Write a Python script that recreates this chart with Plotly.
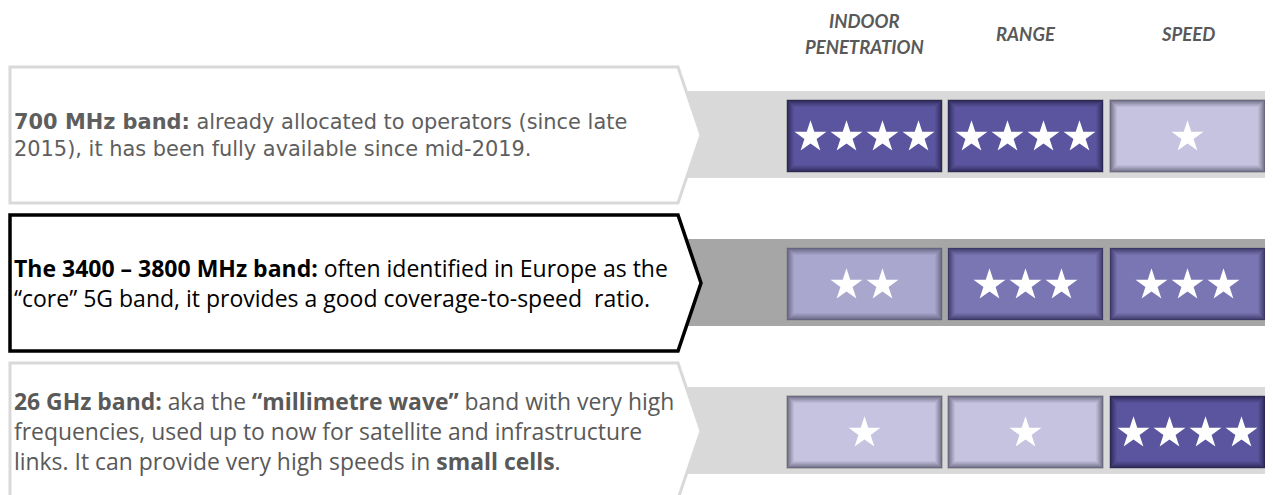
import plotly.graph_objects as go

# ---------------- data ----------------
columns = ["INDOOR<br>PENETRATION", "RANGE", "SPEED"]
bands = ["700 MHz band", "3400 – 3800 MHz band", "26 GHz band"]
ratings = [[4, 4, 1],
           [2, 3, 3],
           [1, 1, 4]]
descriptions = [
    "<b>700 MHz band:</b> already allocated to operators (since late<br>"
    "2015), it has been fully available since mid-2019.",
    "<b>The 3400 – 3800 MHz band:</b> often identified in Europe as the<br>"
    "“core” 5G band, it provides a good coverage-to-speed  ratio.",
    "<b>26 GHz band:</b> aka the <b>“millimetre wave”</b> band with very high<br>"
    "frequencies, used up to now for satellite and infrastructure<br>"
    "links. It can provide very high speeds in <b>small cells</b>.",
]
highlight = [False, True, False]

# ---------------- style / layout constants ----------------
W, H = 1273, 495
OFF = 8  # page body margin
row_c = [135, 283, 431]
col_x0 = [787, 948, 1110]
col_w = 155
star_step = 36

text_fonts = [
    dict(family="DejaVu Sans", size=20.9, color="#5e5e5e"),
    dict(family="Open Sans", size=23, color="#000000"),
    dict(family="Open Sans", size=22.9, color="#595959"),
]
arrow_line = ["#d9d9d9", "#000000", "#d9d9d9"]
arrow_w = [3, 3.5, 3]
band_col = ["#d9d9d9", "#a6a6a6", "#d9d9d9"]
pal_normal = {"dark": ("#5b559f", "#2c2856"), "light": ("#c5c3df", "#6c6a80")}
pal_high = {"dark": ("#7a75b3", "#3c3866"), "light": ("#aaa7cf", "#656380")}


def hx(c):
    c = c.lstrip("#")
    return [int(c[i:i + 2], 16) for i in (0, 2, 4)]


def blend(a, b, t):
    A, B = hx(a), hx(b)
    return "#%02x%02x%02x" % tuple(int(round(A[i] + (B[i] - A[i]) * t)) for i in range(3))


shapes = []
annotations = []

for r in range(3):
    c = row_c[r]
    # grey band behind boxes
    shapes.append(dict(type="rect", xref="x", yref="y", layer="below",
                       x0=688, x1=W + 5, y0=c - 44, y1=c + 43,
                       fillcolor=band_col[r], line=dict(width=0)))
    # arrow (pentagon) text box
    top, bot = c - 68, c + 68
    path = f"M 10,{top} L 678,{top} L 701,{c} L 678,{bot} L 10,{bot} Z"
    shapes.append(dict(type="path", xref="x", yref="y", layer="below", path=path,
                       fillcolor="#ffffff",
                       line=dict(color=arrow_line[r], width=arrow_w[r])))
    # rating boxes with inner shadow
    pal = pal_high if highlight[r] else pal_normal
    for j in range(3):
        kind = "dark" if ratings[r][j] >= 3 else "light"
        base, edge = pal[kind]
        x0, x1 = col_x0[j], col_x0[j] + col_w
        y0, y1 = c - 35, c + 37
        shapes.append(dict(type="rect", xref="x", yref="y", layer="below",
                           x0=x0 - 0.5, x1=x1 + 0.5, y0=y0 - 0.5, y1=y1 + 0.5,
                           fillcolor="#8c8c8c", line=dict(width=0)))
        n = 7
        for k in range(n + 1):
            t = (k / n) ** 0.8
            shapes.append(dict(type="rect", xref="x", yref="y", layer="below",
                               x0=x0 + k, x1=x1 - k, y0=y0 + k, y1=y1 - k,
                               fillcolor=blend(edge, base, t), line=dict(width=0)))

    # description text (multi-line annotation)
    annotations.append(dict(x=12, y=c, xref="x", yref="y", text=descriptions[r],
                            showarrow=False, xanchor="left", yanchor="middle",
                            align="left", font=text_fonts[r]))

# column headers
for j, name in enumerate(columns):
    xc = col_x0[j] + col_w / 2
    parts = name.split("<br>")
    for i, p in enumerate(parts):
        y = 34 + (i - (len(parts) - 1) / 2) * 26
        annotations.append(dict(x=xc, y=y, xref="x", yref="y",
                                text=f"<b><i>{p}</i></b>", showarrow=False,
                                xanchor="center", yanchor="middle",
                                font=dict(family="Lato", size=18.5, color="#595959")))

# stars
sx, sy = [], []
for r in range(3):
    for j in range(3):
        n = ratings[r][j]
        xc = col_x0[j] + col_w / 2
        for s in range(n):
            sx.append(xc + (s - (n - 1) / 2) * star_step)
            sy.append(row_c[r] + 2)

fig = go.Figure()
fig.add_trace(go.Scatter(x=sx, y=sy, mode="markers", hoverinfo="skip",
                         marker=dict(symbol="star", size=24, color="#ffffff",
                                     line=dict(width=0))))

fig.update_layout(
    width=W - OFF, height=H - OFF, margin=dict(l=0, r=0, t=0, b=0),
    paper_bgcolor="#ffffff", plot_bgcolor="#ffffff",
    showlegend=False, shapes=shapes, annotations=annotations,
    xaxis=dict(range=[OFF, W], visible=False, fixedrange=True),
    yaxis=dict(range=[H, OFF], visible=False, fixedrange=True),
)
fig.write_html("out.html", config={"displayModeBar": False})
